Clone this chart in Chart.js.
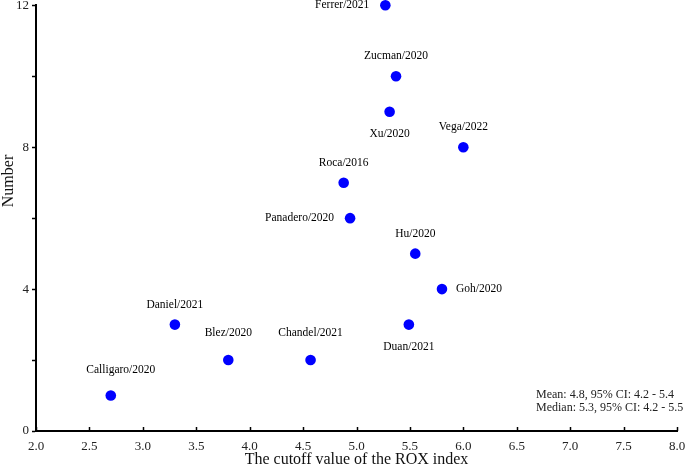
<!DOCTYPE html>
<html>
<head>
<meta charset="utf-8">
<script src="https://cdn.jsdelivr.net/npm/chart.js@4/dist/chart.umd.min.js"></script>
<style>
  html, body { margin: 0; padding: 0; background: #fff; }
  canvas { display: block; }
</style>
</head>
<body>
<canvas id="roxChart" width="685" height="468"></canvas>
<script>
// studies, ROX cutoff and count
const studies = ["Ferrer/2021", "Zucman/2020", "Xu/2020", "Vega/2022", "Roca/2016", "Panadero/2020",
    "Hu/2020", "Goh/2020", "Daniel/2021", "Duan/2021", "Blez/2020", "Chandel/2021", "Calligaro/2020"];
const roxCutoff = [5.27, 5.37, 5.31, 6.0, 4.88, 4.94, 5.55, 5.80, 3.30, 5.49, 3.80, 4.57, 2.70];
const studyNumber = [12, 10, 9, 8, 7, 6, 5, 4, 3, 3, 2, 2, 1];
// where each label sits relative to its dot
const labelSide = ["left", "top", "bottom", "top", "top", "left", "top", "right", "top", "bottom",
    "topFar", "topFar", "topFarRight"];

const yMajorTicks = [0, 4, 8, 12];
const summaryLines = ["Mean: 4.8, 95% CI: 4.2 - 5.4", "Median: 5.3, 95% CI: 4.2 - 5.5"];
const xTitle = "The cutoff value of the ROX index";
const yTitle = "Number";

const serif = "'Liberation Serif', 'Times New Roman', serif";

let points = [];
for (let i = 0; i < studies.length; i++) {
    points.push({ x: roxCutoff[i], y: studyNumber[i] });
}

const labelOffsets = {
    top: [0, -20, "center"],
    topFar: [0, -27, "center"],
    topFarRight: [10, -26, "center"],
    bottom: [0, 22, "center"],
    left: [-16, 0, "right"],
    right: [14, 0, "left"]
};

const extrasPlugin = {
    id: "extras",
    afterDraw(chart) {
        const ctx = chart.ctx;
        const area = chart.chartArea;
        const xs = chart.scales.x;

        // x ticks point inward
        ctx.save();
        ctx.strokeStyle = "#000";
        ctx.lineWidth = 1.5;
        for (let v = 2; v <= 8.001; v += 0.5) {
            const px = Math.round(xs.getPixelForValue(v)) + 0.5;
            ctx.beginPath();
            ctx.moveTo(px, area.bottom);
            ctx.lineTo(px, area.bottom - 4);
            ctx.stroke();
        }
        ctx.restore();

        // study labels
        const meta = chart.getDatasetMeta(0);
        ctx.save();
        ctx.font = "11.5px " + serif;
        ctx.fillStyle = "#000";
        ctx.textBaseline = "middle";
        meta.data.forEach((pt, i) => {
            const off = labelOffsets[labelSide[i]];
            ctx.textAlign = off[2];
            ctx.fillText(studies[i], pt.x + off[0], pt.y + off[1]);
        });
        ctx.restore();

        // summary text
        ctx.save();
        ctx.font = "12px " + serif;
        ctx.fillStyle = "#222";
        ctx.textAlign = "left";
        ctx.textBaseline = "middle";
        ctx.fillText(summaryLines[0], 536, 395);
        ctx.fillText(summaryLines[1], 536, 407.5);
        ctx.restore();

        // y axis title
        ctx.save();
        ctx.font = "16px " + serif;
        ctx.fillStyle = "#111";
        ctx.textAlign = "center";
        ctx.textBaseline = "middle";
        ctx.translate(9, 181);
        ctx.rotate(-Math.PI / 2);
        ctx.fillText(yTitle, 0, 0);
        ctx.restore();
    }
};

new Chart(document.getElementById("roxChart"), {
    type: "scatter",
    data: {
        datasets: [{
            data: points,
            backgroundColor: "#0000ff",
            borderWidth: 0,
            pointRadius: 5.3,
            pointHoverRadius: 5.3,
            clip: false
        }]
    },
    options: {
        responsive: false,
        animation: false,
        layout: { padding: { top: 5, right: 8, left: 0, bottom: 0 } },
        plugins: {
            legend: { display: false },
            tooltip: { enabled: false }
        },
        scales: {
            x: {
                type: "linear",
                min: 2,
                max: 8,
                grid: { display: true, drawOnChartArea: false, drawTicks: false },
                border: { color: "#000", width: 2 },
                ticks: {
                    stepSize: 0.5,
                    padding: 8,
                    color: "#222",
                    font: { family: serif, size: 13 },
                    maxRotation: 0,
                    callback: (v) => Number(v).toFixed(1)
                },
                title: {
                    display: true,
                    text: xTitle,
                    color: "#111",
                    padding: 0,
                    font: { family: serif, size: 16, lineHeight: 1 }
                },
                afterFit: (s) => {
                    s.height = 37;
                    s.paddingLeft = 0;
                    s.paddingRight = 0;
                }
            },
            y: {
                type: "linear",
                min: 0,
                max: 12,
                grid: { drawOnChartArea: false, drawTicks: true, tickLength: 4, tickColor: "#000", tickWidth: 1.5 },
                border: { color: "#000", width: 2 },
                ticks: {
                    stepSize: 2,
                    padding: 3,
                    color: "#222",
                    font: { family: serif, size: 13 },
                    callback: (v) => yMajorTicks.includes(v) ? String(v) : ""
                },
                afterFit: (s) => {
                    s.width = 36;
                    s.paddingTop = 0;
                    s.paddingBottom = 0;
                }
            }
        }
    },
    plugins: [extrasPlugin]
});
</script>
</body>
</html>
